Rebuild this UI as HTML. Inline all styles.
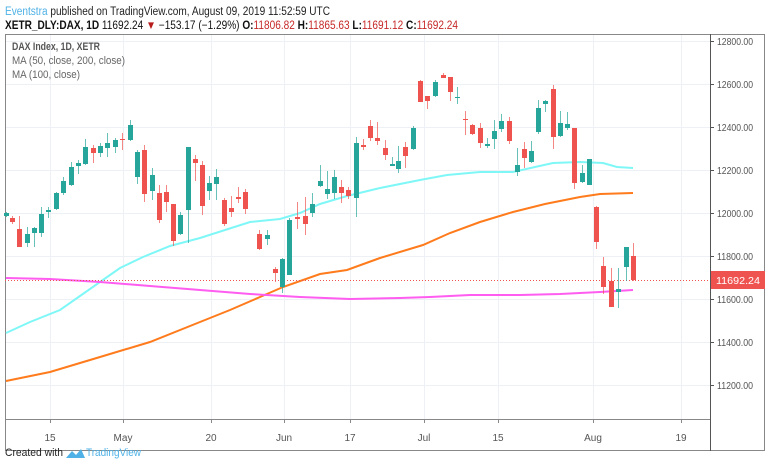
<!DOCTYPE html>
<html><head><meta charset="utf-8"><style>
body{margin:0;width:768px;height:464px;background:#fff;overflow:hidden;font-family:"Liberation Sans",sans-serif}
svg{position:absolute;left:0;top:0}
</style></head><body>
<svg id="s" width="768" height="464" xmlns="http://www.w3.org/2000/svg" font-family="Liberation Sans, sans-serif">
<text x="5" y="15" font-size="11.5" fill="#4fb1e6" textLength="325" lengthAdjust="spacingAndGlyphs">Eventstra <tspan fill="#222">published on TradingView.com, August 09, 2019 11:52:59 UTC</tspan></text>
<text x="5" y="29" font-size="11.5" fill="#111" textLength="453" lengthAdjust="spacingAndGlyphs"><tspan font-weight="bold">XETR_DLY:DAX, 1D</tspan> 11692.24 <tspan fill="#b71c1c">▼</tspan> −153.17 (−1.29%) <tspan font-weight="bold">O:</tspan><tspan fill="#c62828">11806.82</tspan> <tspan font-weight="bold">H:</tspan><tspan fill="#c62828">11865.63</tspan> <tspan font-weight="bold">L:</tspan><tspan fill="#c62828">11691.12</tspan> <tspan font-weight="bold">C:</tspan><tspan fill="#c62828">11692.24</tspan></text>
<g id="grid" stroke="#edf1f6" stroke-width="1"></g>
<rect x="5.5" y="34.5" width="759" height="416" fill="none" stroke="#888"/>
<line x1="5" y1="419.5" x2="710" y2="419.5" stroke="#888"/>
<line x1="710.5" y1="34" x2="710.5" y2="451" stroke="#555"/>
<text x="12" y="50" font-size="11" fill="#555" font-weight="bold" textLength="88" lengthAdjust="spacingAndGlyphs">DAX Index, 1D, XETR</text>
<text x="12" y="64" font-size="11" fill="#666" textLength="113" lengthAdjust="spacingAndGlyphs">MA (50, close, 200, close)</text>
<text x="12" y="78" font-size="11" fill="#666" textLength="68" lengthAdjust="spacingAndGlyphs">MA (100, close)</text>
<g id="lines" fill="none" stroke-width="2"></g>
<line x1="5" y1="280.5" x2="710" y2="280.5" stroke="#ef5350" stroke-dasharray="1,2"/>
<g id="c"></g>
<g id="ax" font-size="10" fill="#555"></g>
<rect x="711" y="271" width="54" height="18" fill="#ef5350"/>
<text x="716" y="284" font-size="10.5" fill="#fff" textLength="44" lengthAdjust="spacingAndGlyphs">11692.24</text>
<text x="5" y="456" font-size="11" fill="#222" textLength="58" lengthAdjust="spacingAndGlyphs">Created with</text>
<path d="M66 458 l6-7 4 4 5-6 4 9z" fill="#4fb1e6"/>
<text x="86" y="456" font-size="11" fill="#4fb1e6" textLength="55" lengthAdjust="spacingAndGlyphs">TradingView</text>
</svg>
<script>
const NS="http://www.w3.org/2000/svg";
function el(p,t,a,txt){const e=document.createElementNS(NS,t);for(const k in a)e.setAttribute(k,a[k]);if(txt)e.textContent=txt;document.getElementById(p).appendChild(e);}
const py=[[12800,41],[12600,84],[12400,127],[12200,170],[12000,213],[11800,256],[11600,299],[11400,342],[11200,385]];
py.forEach(([p,y])=>{el("grid","line",{x1:6,x2:710,y1:y+.5,y2:y+.5});el("ax","line",{x1:710,x2:714,y1:y+.5,y2:y+.5,stroke:"#555"});el("ax","text",{x:717,y:y+4,textLength:36,lengthAdjust:"spacingAndGlyphs"},p.toFixed(2));});
const dx=[[50,"15"],[123,"May"],[211,"20"],[284,"Jun"],[350,"17"],[424,"Jul"],[498,"15"],[593,"Aug"],[681,"19"]];
dx.forEach(([x,t])=>{el("grid","line",{x1:x+.5,x2:x+.5,y1:35,y2:419});el("ax","line",{x1:x+.5,x2:x+.5,y1:419,y2:423,stroke:"#888"});el("ax","text",{x:x,y:441,"text-anchor":"middle"},t);});
function pl(col,pts){el("lines","polyline",{stroke:col,points:pts.map(p=>p.join(",")).join(" ")});}
pl("#7ff7f7",[[6,333],[30,322],[60,310],[100,282],[120,268],[143,257],[170,246],[200,238],[250,222],[280,219],[300,213],[320,204],[347,196],[380,188],[420,180],[447,175],[480,172],[513,172],[535,167],[553,163],[580,162],[603,163],[617,167],[633,168]]);
pl("#ff7b1c",[[6,381],[50,372],[100,357],[150,342],[200,322],[230,310],[260,297],[283,287],[320,274],[347,270],[380,258],[423,245],[450,233],[480,222],[513,212],[545,204],[580,197],[600,194],[633,193]]);
pl("#ff5cf0",[[6,278],[50,279],[100,282],[150,286],[200,290],[250,294],[300,297],[350,299],[400,298],[430,297],[470,295],[520,295],[560,294],[600,292],[633,290]]);
const C=[
[6,'g',213,216,212,217],[12,'r',218,222,216,224],[19,'r',229,247,216,247],[27,'g',234,243,227,247],[34,'g',228,233,227,247],[41,'g',214,233,207,237],[48,'g',210,212,207,218],[56,'g',193,209,192,210],[63,'g',181,193,177,195],[71,'g',167,185,162,186],[78,'g',163,166,160,174],[85,'g',147,164,139,165],[93,'r',148,153,145,163],[100,'g',146,153,143,157],[107,'g',143,148,133,157],[115,'g',140,147,138,153],[122,'r',139,140,133,150],[130,'g',125,140,120,141],
[137,'g',152,177,150,184],[144,'r',150,194,145,202],[152,'g',175,191,168,200],[159,'r',193,220,185,223],[166,'r',192,202,185,212],[173,'r',204,241,204,246],[180,'g',215,234,212,235],[188,'g',147,210,147,243],[195,'r',159,163,155,181],[202,'r',165,206,161,215],[209,'g',183,191,176,200],[216,'g',177,184,169,200],[224,'r',200,224,198,226],[231,'r',208,212,196,217],[238,'r',197,199,187,203],[245,'r',192,209,189,214],
[259,'r',234,249,230,250],[267,'g',235,239,230,245],[275,'r',269,273,267,282],[282,'g',259,287,258,293],[289,'g',220,275,218,275],[297,'r',217,219,202,229],[305,'r',216,224,197,235],[312,'g',204,213,193,217],[320,'g',181,186,165,187],[327,'g',189,194,171,199],[334,'g',177,193,170,199],[341,'r',187,193,180,203],[348,'r',190,196,187,199],[356,'g',143,198,137,217],[363,'r',145,147,139,150],[370,'r',126,138,120,141],[377,'r',138,141,122,145],[385,'r',148,155,140,160],[392,'g',164,166,157,166],[398,'g',161,169,146,173],[405,'r',147,156,142,168],[413,'g',128,149,126,150],
[420,'r',81,102,80,102],[427,'r',96,101,96,109],[435,'g',82,96,80,97],[443,'r',75,78,73,78],[450,'r',77,92,77,101],[457,'g',97,98,87,104],[465,'r',119,120,111,135],[472,'r',125,134,124,135],[480,'r',128,143,123,148],[487,'g',144,146,138,148],[494,'g',131,139,120,149],[501,'g',121,129,114,132],[509,'r',121,141,117,144],[517,'g',165,172,148,176],[524,'r',149,158,142,168],[531,'g',151,162,141,163],[538,'g',108,132,100,134],[545,'g',101,104,100,112],[553,'r',89,137,85,149],[560,'g',123,136,111,137],[567,'g',124,128,112,130],[574,'r',128,183,128,189],[582,'g',173,182,165,183],[589,'g',159,185,159,185],[596,'r',207,242,206,249],[603,'r',266,287,257,294],[611,'r',281,307,268,307],[618,'g',289,292,268,308],[626,'g',247,267,247,281],[633,'r',256,280,243,281]];
C.forEach(([x,c,t,b,wt,wb])=>{const col=c=='g'?'#26a69a':'#ef5350';el("c","line",{x1:x+.5,x2:x+.5,y1:wt,y2:wb,stroke:col,"stroke-opacity":.7});el("c","rect",{x:x-2,y:t,width:5,height:Math.max(1,b-t),fill:col});});
</script>
</body></html>
